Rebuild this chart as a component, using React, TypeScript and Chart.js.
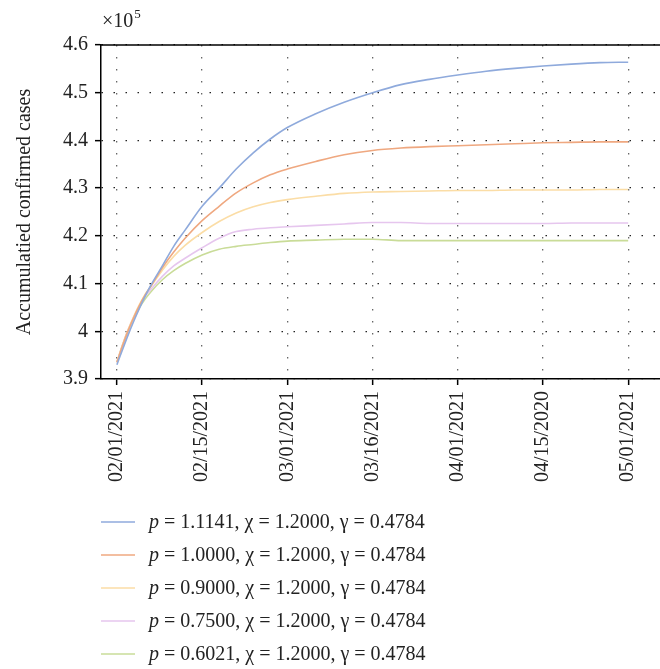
import React, { useEffect, useRef } from "react";
import { Chart, registerables } from "chart.js";

Chart.register(...registerables);

const days = [0, 1, 2, 3, 4, 5, 6, 8, 10, 12, 15, 18, 21, 24, 27, 30, 35, 40, 45, 50, 55, 60, 65, 70, 75, 80, 85, 90];

const tickDays = [0, 15, 30, 45, 60, 75, 90];
const tickLabels = ["02/01/2021", "02/15/2021", "03/01/2021", "03/16/2021", "04/01/2021", "04/15/2020", "05/01/2021"];

const seriesP1 = [3.930, 3.962, 3.993, 4.022, 4.049, 4.074, 4.097, 4.137, 4.178, 4.212, 4.262, 4.300, 4.340, 4.374, 4.403, 4.427, 4.456, 4.480, 4.500, 4.517, 4.528, 4.537, 4.545, 4.551, 4.556, 4.560, 4.563, 4.564];
const seriesP2 = [3.935, 3.970, 4.002, 4.030, 4.055, 4.077, 4.095, 4.133, 4.166, 4.195, 4.232, 4.262, 4.290, 4.311, 4.328, 4.340, 4.356, 4.370, 4.379, 4.384, 4.387, 4.389, 4.391, 4.393, 4.395, 4.396, 4.397, 4.397];
const seriesP3 = [3.935, 3.972, 4.004, 4.032, 4.057, 4.078, 4.094, 4.128, 4.157, 4.180, 4.207, 4.230, 4.248, 4.261, 4.270, 4.276, 4.283, 4.289, 4.292, 4.293, 4.294, 4.295, 4.295, 4.296, 4.296, 4.296, 4.297, 4.297];
const seriesP4 = [3.935, 3.972, 4.004, 4.031, 4.055, 4.074, 4.088, 4.115, 4.137, 4.153, 4.175, 4.195, 4.209, 4.214, 4.217, 4.219, 4.222, 4.225, 4.228, 4.228, 4.226, 4.226, 4.226, 4.226, 4.226, 4.227, 4.227, 4.227];
const seriesP5 = [3.935, 3.971, 4.002, 4.028, 4.050, 4.068, 4.083, 4.108, 4.127, 4.142, 4.160, 4.172, 4.178, 4.182, 4.186, 4.189, 4.191, 4.193, 4.193, 4.190, 4.190, 4.190, 4.190, 4.190, 4.190, 4.190, 4.190, 4.190];

const pValues = ["1.1141", "1.0000", "0.9000", "0.7500", "0.6021"];
const chiValues = ["1.2000", "1.2000", "1.2000", "1.2000", "1.2000"];
const gammaValues = ["0.4784", "0.4784", "0.4784", "0.4784", "0.4784"];
const colors = ["#8FAADC", "#EFA880", "#FBDDA6", "#E6C6EE", "#C9DC98"];
const allSeries = [seriesP1, seriesP2, seriesP3, seriesP4, seriesP5];

const yTitle = "Accumulatied confirmed cases";
const SERIF = "'Liberation Serif', 'Times New Roman', serif";

const extrasPlugin = {
  id: "extras",
  afterDraw(chart: any) {
    const ctx = chart.ctx;
    const area = chart.chartArea;
    ctx.save();
    // top border
    ctx.setLineDash([]);
    ctx.strokeStyle = "#000";
    ctx.lineWidth = 1.5;
    ctx.beginPath();
    ctx.moveTo(area.left, area.top);
    ctx.lineTo(chart.width, area.top);
    ctx.stroke();

    // x10^5
    ctx.fillStyle = "#222";
    ctx.textBaseline = "alphabetic";
    ctx.textAlign = "left";
    ctx.font = `20px ${SERIF}`;
    ctx.fillText("\u00d710", 102, 27);
    const w = ctx.measureText("\u00d710").width;
    ctx.font = `13px ${SERIF}`;
    ctx.fillText("5", 102 + w + 1, 18);

    // y title
    ctx.save();
    ctx.translate(25, 212);
    ctx.rotate(-Math.PI / 2);
    ctx.font = `20px ${SERIF}`;
    ctx.textAlign = "center";
    ctx.textBaseline = "middle";
    ctx.fillText(yTitle, 0, 0);
    ctx.restore();

    // legend
    chart.data.datasets.forEach((ds: any, i: number) => {
      const y = 522 + 33 * i;
      ctx.strokeStyle = ds.borderColor;
      ctx.lineWidth = 1.5;
      ctx.beginPath();
      ctx.moveTo(101, y);
      ctx.lineTo(135, y);
      ctx.stroke();
      ctx.fillStyle = "#222";
      ctx.textAlign = "left";
      ctx.textBaseline = "middle";
      ctx.font = `italic 20px ${SERIF}`;
      ctx.fillText("p", 149, y + 1);
      const pw = ctx.measureText("p").width;
      ctx.font = `20px ${SERIF}`;
      ctx.fillText(
        ` = ${pValues[i]}, \u03c7 = ${chiValues[i]}, \u03b3 = ${gammaValues[i]}`,
        149 + pw,
        y + 1
      );
    });
    ctx.restore();
  },
};

export default function App() {
  const ref = useRef<HTMLCanvasElement | null>(null);
  useEffect(() => {
    document.body.style.margin = "0";
    if (!ref.current) return;
    const chart = new Chart(ref.current, {
      type: "line",
      data: {
        datasets: allSeries.map((s, i) => ({
          label: `p = ${pValues[i]}`,
          data: s.map((v, j) => ({ x: days[j], y: v })),
          borderColor: colors[i],
          backgroundColor: colors[i],
          borderWidth: 1.6,
          pointRadius: 0,
          fill: false,
          cubicInterpolationMode: "monotone" as const,
        })),
      },
      options: {
        animation: false,
        responsive: false,
        devicePixelRatio: 1,
        layout: { padding: { top: 45, left: 0, right: 0, bottom: 0 } },
        plugins: { legend: { display: false }, tooltip: { enabled: false } },
        scales: {
          x: {
            type: "linear",
            min: -2.8,
            max: 95.6,
            afterBuildTicks: (scale: any) => {
              scale.ticks = tickDays.map((v) => ({ value: v }));
            },
            afterFit: (scale: any) => {
              scale.height = 290;
            },
            ticks: {
              autoSkip: false,
              maxRotation: 90,
              minRotation: 90,
              padding: 6,
              color: "#222",
              font: { family: SERIF, size: 20 },
              callback: (v: any) => {
                const idx = tickDays.indexOf(Number(v));
                return idx >= 0 ? tickLabels[idx] : "";
              },
            },
            grid: {
              color: "#666",
              lineWidth: 1.3,
              drawTicks: true,
              tickLength: 6,
              tickColor: "#000",
              tickWidth: 1.5,
              tickBorderDash: [],
            } as any,
            border: { display: true, color: "#000", width: 1.5, dash: [1.5, 10.5] },
          },
          y: {
            min: 3.9,
            max: 4.6,
            afterBuildTicks: (scale: any) => {
              const t = [];
              for (let k = 0; k <= 7; k++) t.push({ value: Math.round((3.9 + k * 0.1) * 10) / 10 });
              scale.ticks = t;
            },
            afterFit: (scale: any) => {
              scale.width = 101;
            },
            ticks: {
              padding: 7,
              color: "#222",
              font: { family: SERIF, size: 20 },
              callback: (v: any) => String(Math.round(Number(v) * 10) / 10),
            },
            grid: {
              color: "#222",
              lineWidth: 1.3,
              drawTicks: true,
              tickLength: 6,
              tickColor: "#000",
              tickWidth: 1.5,
              tickBorderDash: [],
            } as any,
            border: { display: true, color: "#000", width: 1.5, dash: [1.5, 10.5] },
          },
        },
      },
      plugins: [extrasPlugin],
    });
    return () => chart.destroy();
  }, []);
  return (
    <div style={{ width: 660, height: 669, background: "#fff" }}>
      <canvas ref={ref} width={660} height={669} style={{ display: "block", width: 660, height: 669 }} />
    </div>
  );
}
